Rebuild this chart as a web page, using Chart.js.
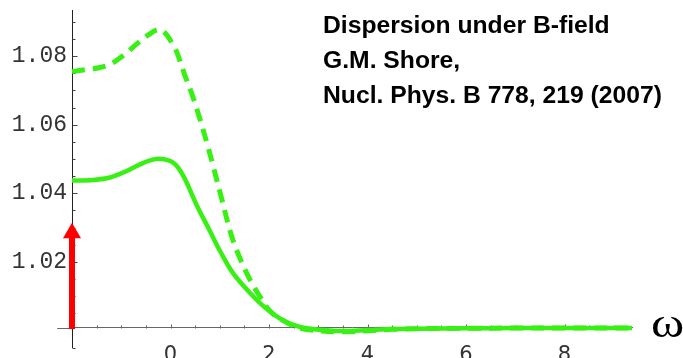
<!DOCTYPE html>
<html>
<head>
<meta charset="utf-8">
<script src="https://cdn.jsdelivr.net/npm/chart.js@4.4.0/dist/chart.umd.min.js"></script>
<style>
  html, body { margin: 0; padding: 0; background: #fff; }
  #wrap { position: relative; width: 683px; height: 358px; overflow: hidden; }
  #c { display: block; }
  #note { position: absolute; left: 323px; top: 8px; font: bold 24.7px "Liberation Sans", Arial, sans-serif; line-height: 34.8px; color: #000; white-space: nowrap; }
  #omega { position: absolute; left: 651px; top: 302px; font: 42px "Liberation Serif", "Times New Roman", serif; line-height: 42px; color: #000; transform: scaleX(1.2); transform-origin: left top; }
</style>
</head>
<body>
<div id="wrap">
  <canvas id="c" width="683" height="358"></canvas>
  <div id="note">Dispersion under B-field<br>G.M. Shore,<br>Nucl. Phys. B 778, 219 (2007)</div>
  <div id="omega">ω</div>
</div>
<script>
// solid curve
const solidX = [-2.0, -1.57, -1.23, -0.89, -0.55, -0.25, 0.06, 0.26, 0.53, 0.80, 1.0, 1.27, 1.61, 1.95, 2.29, 2.63, 3.1, 3.5, 4.0, 4.5, 5.0, 6.0, 7.0, 8.0, 9.37];
const solidY = [1.0437, 1.0439, 1.0446, 1.0465, 1.0489, 1.0501, 1.0489, 1.0451, 1.0366, 1.0290, 1.0233, 1.0167, 1.0110, 1.0063, 1.0029, 1.0010, 1.0001, 0.9998, 1.0001, 1.0004, 1.0005, 1.0006, 1.0007, 1.0007, 1.0007];

// dashed curve
const dashedX = [-2.0, -1.70, -1.43, -1.23, -0.96, -0.69, -0.48, -0.23, -0.08, 0.06, 0.13, 0.29, 0.46, 0.60, 0.74, 0.88, 1.02, 1.23, 1.40, 1.61, 1.81, 2.01, 2.28, 2.62, 3.09, 3.5, 4.0, 4.5, 5.0, 6.0, 7.0, 8.0, 9.37];
const dashedY = [1.0755, 1.0761, 1.0767, 1.0776, 1.0802, 1.0835, 1.0859, 1.0878, 1.0863, 1.0830, 1.0811, 1.0745, 1.0679, 1.0615, 1.0546, 1.0472, 1.0395, 1.0280, 1.0214, 1.0149, 1.0100, 1.0058, 1.0029, 1.0007, 0.9998, 0.9996, 0.9999, 1.0003, 1.0005, 1.0006, 1.0007, 1.0007, 1.0007];

// red arrow at the left edge
const arrowX = -2;
const arrowFrom = 1.0004;
const arrowHead = 1.0284;

// axes
const xMin = -2, xMax = 9.37, xAxisStart = -2.3;
const yMin = 0.99498, yMax = 1.09336, xAxisCross = 1.0008;
const xLabelTicks = [0, 2, 4, 6, 8];
const yLabelTicks = [1.02, 1.04, 1.06, 1.08];

const green = '#38f014';

const toPoints = (xs, ys) => xs.map((x, i) => ({ x: x, y: ys[i] }));

// Mathematica-style inward tick marks
const axisTicks = {
    id: 'axisTicks',
    beforeDatasetsDraw(chart) {
        const { ctx, scales: { x, y } } = chart;
        const px0 = Math.round(x.getPixelForValue(xMin)) + 0.5;
        const py0 = Math.round(y.getPixelForValue(xAxisCross)) + 0.5;
        ctx.save();
        ctx.lineWidth = 1;
        ctx.strokeStyle = '#444';
        ctx.beginPath();
        for (let v = 0.995; v < yMax; v += 0.005) {
            if (Math.abs(v - 1) < 0.001) continue;
            const p = Math.round(y.getPixelForValue(v)) + 0.5;
            const major = Math.abs(Math.round(v * 50) - v * 50) < 0.01;
            ctx.moveTo(px0, p);
            ctx.lineTo(px0 + (major ? 5 : 3), p);
        }
        ctx.stroke();
        ctx.strokeStyle = '#666';
        ctx.beginPath();
        ctx.moveTo(x.getPixelForValue(xAxisStart), py0);
        ctx.lineTo(px0, py0);
        for (let v = -1.5; v <= 9.01; v += 0.5) {
            const p = Math.round(x.getPixelForValue(v)) + 0.5;
            const major = Math.abs(v % 2) < 0.01;
            ctx.moveTo(p, py0);
            ctx.lineTo(p, py0 - (major ? 4 : 3));
        }
        ctx.stroke();
        ctx.restore();
    }
};

new Chart(document.getElementById('c'), {
    type: 'line',
    data: {
        datasets: [{
            label: 'arrow',
            data: [{ x: arrowX, y: arrowFrom }, { x: arrowX, y: arrowHead }],
            borderColor: '#ff0000',
            borderWidth: 6,
            borderCapStyle: 'butt',
            pointRadius: [0, 10.4],
            pointStyle: 'triangle',
            pointBackgroundColor: '#ff0000',
            pointBorderWidth: 0,
            clip: false
        }, {
            label: 'solid',
            data: toPoints(solidX, solidY),
            borderColor: green,
            borderWidth: 4.5,
            pointRadius: 0,
            tension: 0.35,
            clip: false
        }, {
            label: 'dashed',
            data: toPoints(dashedX, dashedY),
            borderColor: green,
            borderWidth: 5,
            borderDash: [13, 8],
            borderCapStyle: 'butt',
            pointRadius: 0,
            tension: 0.35,
            clip: false
        }]
    },
    options: {
        responsive: false,
        animation: false,
        layout: { padding: { left: 0, right: 51, top: 7, bottom: 5 } },
        plugins: { legend: { display: false }, tooltip: { enabled: false } },
        scales: {
            x: {
                type: 'linear',
                min: xMin,
                max: xMax,
                position: { y: xAxisCross },
                afterBuildTicks: (s) => { s.ticks = xLabelTicks.map(v => ({ value: v })); },
                afterFit: (s) => { s.paddingLeft = 0; s.paddingRight = 0; },
                grid: { display: false, drawTicks: false },
                border: { display: true, color: '#666', width: 1 },
                ticks: {
                    font: { family: 'DejaVu Sans', size: 21 },
                    color: '#333',
                    padding: 15,
                    maxRotation: 0,
                    autoSkip: false,
                    callback: (v) => String(v)
                }
            },
            y: {
                type: 'linear',
                min: yMin,
                max: yMax,
                position: 'left',
                afterBuildTicks: (s) => { s.ticks = yLabelTicks.map(v => ({ value: v })); },
                afterFit: (s) => { s.width = 72; s.paddingTop = 0; s.paddingBottom = 0; },
                grid: { display: false, drawTicks: false },
                border: { display: true, color: '#222', width: 1 },
                ticks: {
                    font: { family: 'Liberation Mono', size: 23 },
                    color: '#333',
                    padding: 5,
                    autoSkip: false,
                    callback: (v) => v.toFixed(2)
                }
            }
        }
    },
    plugins: [axisTicks]
});
</script>
</body>
</html>
